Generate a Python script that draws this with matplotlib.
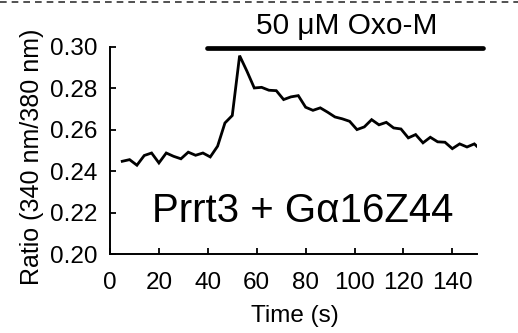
import matplotlib
matplotlib.use("Agg")
import matplotlib.pyplot as plt
from matplotlib.lines import Line2D

plt.rcParams['font.family'] = ['Liberation Sans', 'DejaVu Sans']

# calcium imaging trace (fura-2 ratio)
time_s = [5, 8, 11, 14, 17, 20, 23, 26, 29, 32, 35, 38, 41, 44, 47, 50, 53,
          56, 59, 62, 65, 68, 71, 74, 77, 80, 83, 86, 89, 92, 95, 98, 101,
          104, 107, 110, 113, 116, 119, 122, 125, 128, 131, 134, 137, 140,
          143, 146, 149, 150]
ratio = [0.2448, 0.2456, 0.2429, 0.2476, 0.2488, 0.2440, 0.2488, 0.2472,
         0.2460, 0.2492, 0.2477, 0.2488, 0.2469, 0.2521, 0.2633, 0.2669,
         0.2958, 0.2883, 0.2802, 0.2805, 0.2791, 0.2789, 0.2746, 0.2759,
         0.2765, 0.2709, 0.2694, 0.2706, 0.2685, 0.2662, 0.2653, 0.2641,
         0.2601, 0.2614, 0.2649, 0.2624, 0.2636, 0.2609, 0.2604, 0.2561,
         0.2577, 0.2537, 0.2564, 0.2542, 0.2540, 0.2509, 0.2532, 0.2517,
         0.2532, 0.2521]

# drug application bar
drug_start, drug_end, drug_level = 39.7, 152.6, 0.2997
drug_label = "50 \u03bcM Oxo-M"
panel_label = "Prrt3 + G\u03b116Z44"

xticks = [0, 20, 40, 60, 80, 100, 120, 140]
yticks = [0.20, 0.22, 0.24, 0.26, 0.28, 0.30]

fig = plt.figure(figsize=(5.18, 3.33), dpi=100)
ax = fig.add_axes([0.2124, 0.237, 0.708, 0.622])

ax.plot(time_s, ratio, color='black', lw=2.0, solid_joinstyle='miter')

# application bar and label
ax.plot([drug_start, drug_end], [drug_level, drug_level], color='black',
        lw=3.4, solid_capstyle='round', clip_on=False)
ax.text(97.0, 0.3061, drug_label, ha='center', va='baseline', fontsize=21.5)

ax.text(78.7, 0.2156, panel_label, ha='center', va='baseline', fontsize=29)

ax.set_xlim(0, 150)
ax.set_ylim(0.20, 0.30)
ax.set_xticks(xticks)
ax.set_yticks(yticks)
ax.set_yticklabels(["%.2f" % v for v in yticks])
ax.spines['top'].set_visible(False)
ax.spines['right'].set_visible(False)
for s in ['left', 'bottom']:
    ax.spines[s].set_linewidth(1.4)
ax.tick_params(direction='in', length=4.3, width=1.3, labelsize=17.5)
ax.tick_params(axis='y', pad=9)
ax.tick_params(axis='x', pad=13)

ax.set_xlabel("Time (s)", fontsize=17.5, va='top')
ax.xaxis.set_label_coords(0.504, -0.245)
ax.set_ylabel("Ratio (340 nm/380 nm)", fontsize=18)
ax.yaxis.set_label_coords(-0.18, 0.471)

# dashed panel border at the top
fig.add_artist(Line2D([0, 1], [0.995, 0.995], transform=fig.transFigure,
                      color='#333333', lw=1.2, ls=(0, (4, 3))))

fig.savefig("out.png", dpi=100)
